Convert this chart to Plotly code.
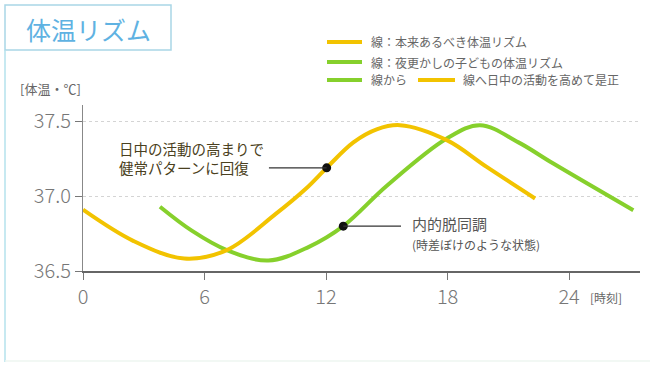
import plotly.graph_objects as go

# ---- data ----
ideal_hours = [0, 2.5, 5.0, 7.1, 9.5, 11.0, 12.03, 13.35, 14.5, 15.65, 17.96, 19.93, 22.32]
ideal_temps = [36.91, 36.70, 36.583, 36.64, 36.88, 37.05, 37.19, 37.36, 37.447, 37.475, 37.375, 37.196, 36.985]

late_hours = [3.8, 5.37, 7.1, 9.15, 11.13, 12.85, 15.0, 17.96, 19.6, 21.5, 23.2, 27.17]
late_temps = [36.93, 36.77, 36.64, 36.57, 36.66, 36.80, 37.07, 37.386, 37.475, 37.36, 37.22, 36.906]

dot_hours = [12.03, 12.85]
dot_temps = [37.19, 36.80]

x_ticks = [0, 6, 12, 18, 24]
x_ticklabels = ["0", "6", "12", "18", "24"]
y_ticks = [36.5, 37.0, 37.5]
y_ticklabels = ["36.5", "37.0", "37.5"]

legend_texts = ["線：本来あるべき体温リズム", "線：夜更かしの子どもの体温リズム", "線から", "線へ日中の活動を高めて是正"]

YELLOW = "#f2c300"
GREEN = "#86d02c"
JP = "Noto Sans CJK JP"

W, H = 650, 365
ML, MR, MT, MB = 83, 10, 105, 94
PW, PH = W - ML - MR, H - MT - MB


def px(x):
    return (x - ML) / PW


def py(y):
    return (H - MB - y) / PH


fig = go.Figure()
fig.add_trace(go.Scatter(x=late_hours, y=late_temps, mode="lines",
                         line=dict(color=GREEN, width=4, shape="spline", smoothing=1.0),
                         hoverinfo="skip", showlegend=False))
fig.add_trace(go.Scatter(x=ideal_hours, y=ideal_temps, mode="lines",
                         line=dict(color=YELLOW, width=4, shape="spline", smoothing=1.0),
                         hoverinfo="skip", showlegend=False))

shapes = []
# connector lines from dots
conn_len = [2.85, -2.85]
for h, t, L in zip(dot_hours, dot_temps, conn_len):
    shapes.append(dict(type="line", xref="x", yref="y", x0=h - L, x1=h, y0=t, y1=t,
                       line=dict(color="#333", width=1.3)))

fig.add_trace(go.Scatter(x=dot_hours, y=dot_temps, mode="markers",
                         marker=dict(color="#111", size=9),
                         hoverinfo="skip", showlegend=False))

# frame and title box
shapes.append(dict(type="rect", xref="paper", yref="paper", x0=px(5), x1=px(171), y0=py(50), y1=py(5),
                   line=dict(color="#a9d6e6", width=1.5)))
shapes.append(dict(type="line", xref="paper", yref="paper", x0=px(5), x1=px(5), y0=py(50), y1=py(362),
                   line=dict(color="#b5e2ec", width=1.5)))
shapes.append(dict(type="line", xref="paper", yref="paper", x0=px(5), x1=px(650), y0=py(361), y1=py(361),
                   line=dict(color="#eef6f0", width=1.5)))

# legend swatches
for (x0, x1, y, c) in [(327, 362, 42, YELLOW), (327, 362, 62, GREEN), (327, 362, 80, GREEN), (418, 455, 80, YELLOW)]:
    shapes.append(dict(type="line", xref="paper", yref="paper", x0=px(x0), x1=px(x1), y0=py(y), y1=py(y),
                       line=dict(color=c, width=4)))

annotations = []


def txt(x, y, s, size, color, xanchor="left", font=JP, align="left"):
    annotations.append(dict(xref="paper", yref="paper", x=px(x), y=py(y), text=s, showarrow=False,
                            xanchor=xanchor, yanchor="middle", align=align,
                            font=dict(family=font, size=size, color=color)))


txt(88, 29, "体温リズム", 25, "#5fb2e2", xanchor="center")
txt(369, 42, legend_texts[0], 12, "#666")
txt(369, 62, legend_texts[1], 12, "#666")
txt(369, 80, legend_texts[2], 12, "#666")
txt(461, 80, legend_texts[3], 12, "#666")
txt(18, 89, "[体温・℃]", 13, "#666")
txt(588, 297, "[時刻]", 12, "#666")

txt(117, 158, "日中の活動の高まりで<br>健常パターンに回復", 14.5, "#4a4020")
txt(410, 233, "内的脱同調<br><span style='font-size:12px'>(時差ぼけのような状態)</span>", 15, "#555")

fig.update_layout(
    width=W, height=H,
    margin=dict(l=ML, r=MR, t=MT, b=MB, autoexpand=False),
    paper_bgcolor="white", plot_bgcolor="white",
    shapes=shapes, annotations=annotations,
    xaxis=dict(range=[0, 27.5], tickvals=x_ticks, ticktext=x_ticklabels,
               showline=True, linecolor="#666", linewidth=1.5,
               ticks="outside", ticklen=7, tickcolor="#777", tickwidth=1,
               showgrid=False, zeroline=False,
               tickfont=dict(family=JP, size=20, color="#777", weight=300)),
    yaxis=dict(range=[36.5, 37.61], tickvals=y_ticks, ticktext=y_ticklabels,
               showline=True, linecolor="#888", linewidth=1.2,
               ticks="outside", ticklen=7, tickcolor="#777", tickwidth=1,
               showgrid=True, gridcolor="#d4d4d4", griddash="dot", gridwidth=1,
               zeroline=False,
               tickfont=dict(family=JP, size=20, color="#777", weight=300)),
)

fig.write_html("out.html", config={"displayModeBar": False},
               post_script="document.body.style.margin='0';")
